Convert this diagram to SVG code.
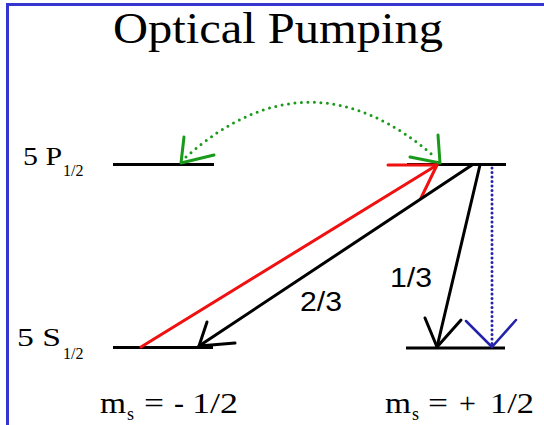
<svg xmlns="http://www.w3.org/2000/svg" width="544" height="425" viewBox="0 0 544 425">
<style>
.lvl{stroke:#000;stroke-width:3;fill:none}
.blk{stroke:#000;stroke-width:3;fill:none;stroke-linecap:round;stroke-linejoin:round}
.red{stroke:#f01010;stroke-width:3;fill:none;stroke-linecap:round;stroke-linejoin:round}
.grn{stroke:#1a9a1a;stroke-width:3;fill:none;stroke-linecap:round;stroke-linejoin:round}
.grnd{stroke:#1a9a1a;stroke-width:3;fill:none;stroke-linecap:round;stroke-dasharray:0 6.5}
.blu{stroke:#2222aa;stroke-width:2.5;fill:none;stroke-linecap:round;stroke-linejoin:round}
.blud{stroke:#2222aa;stroke-width:3;fill:none;stroke-linecap:round;stroke-dasharray:0 4.5}
.serif{font-family:"Liberation Serif","Times New Roman",serif;fill:#000}
.sans{font-family:"Liberation Sans",Arial,sans-serif;fill:#000}
</style>
<rect x="0" y="0" width="544" height="425" fill="#fff"/>
<rect x="7.5" y="4.5" width="600" height="500" fill="none" stroke="#3535d0" stroke-width="3"/>
<text class="serif" x="113" y="43" font-size="44" textLength="330" lengthAdjust="spacingAndGlyphs">Optical Pumping</text>
<g id="level-5P-minus">
<line class="lvl" x1="113" y1="164.5" x2="214" y2="164.5"/>
<text class="serif" x="23" y="165" font-size="26" textLength="39" lengthAdjust="spacingAndGlyphs">5 P</text>
<text class="serif" x="63" y="176" font-size="16">1/2</text>
</g>
<g id="level-5P-plus">
<line class="lvl" x1="407" y1="164.5" x2="506" y2="164.5"/>
</g>
<g id="level-5S-minus">
<line class="lvl" x1="113" y1="347.5" x2="213" y2="347.5"/>
<text class="serif" x="17" y="346" font-size="26" textLength="44" lengthAdjust="spacingAndGlyphs">5 S</text>
<text class="serif" x="63" y="359" font-size="16">1/2</text>
</g>
<g id="level-5S-plus">
<line class="lvl" x1="406" y1="348" x2="505" y2="348"/>
</g>
<g id="labels">
<text class="serif" font-size="30" y="413"><tspan x="100" textLength="26" lengthAdjust="spacingAndGlyphs">m</tspan></text>
<text class="serif" font-size="18" x="127" y="420">s</text>
<text class="serif" font-size="30" y="413"><tspan x="144" textLength="20" lengthAdjust="spacingAndGlyphs">=</tspan><tspan x="174">-</tspan><tspan x="192" textLength="46" lengthAdjust="spacingAndGlyphs">1/2</tspan></text>
<text class="serif" font-size="30" y="413"><tspan x="385" textLength="26" lengthAdjust="spacingAndGlyphs">m</tspan></text>
<text class="serif" font-size="18" x="412" y="420">s</text>
<text class="serif" font-size="30" y="413"><tspan x="428" textLength="20" lengthAdjust="spacingAndGlyphs">=</tspan><tspan x="459">+</tspan><tspan x="490" textLength="44" lengthAdjust="spacingAndGlyphs">1/2</tspan></text>
<text class="sans" x="300" y="311" font-size="27" textLength="42" lengthAdjust="spacingAndGlyphs">2/3</text>
<text class="sans" x="390" y="287" font-size="27" textLength="42" lengthAdjust="spacingAndGlyphs">1/3</text>
</g>
<g id="connectors">
<path class="grnd" d="M186,157 Q310,47 436,158"/>
<polyline class="grn" points="184,137 181,163 214,155"/>
<polyline class="grn" points="438,135 440,163 410,157"/>
<line class="red" x1="141" y1="347" x2="437" y2="165"/>
<polyline class="red" points="388,165 437,165 421,198"/>
<line class="blk" x1="472" y1="165" x2="199" y2="346"/>
<polyline class="blk" points="207,322 199,346 235,343"/>
<line class="blk" x1="480" y1="165" x2="437" y2="347"/>
<polyline class="blk" points="425,318 437,347 461,320"/>
<line class="blud" x1="492" y1="168" x2="492" y2="345"/>
<polyline class="blu" points="466,321 492,347 516,320"/>
</g>
</svg>
